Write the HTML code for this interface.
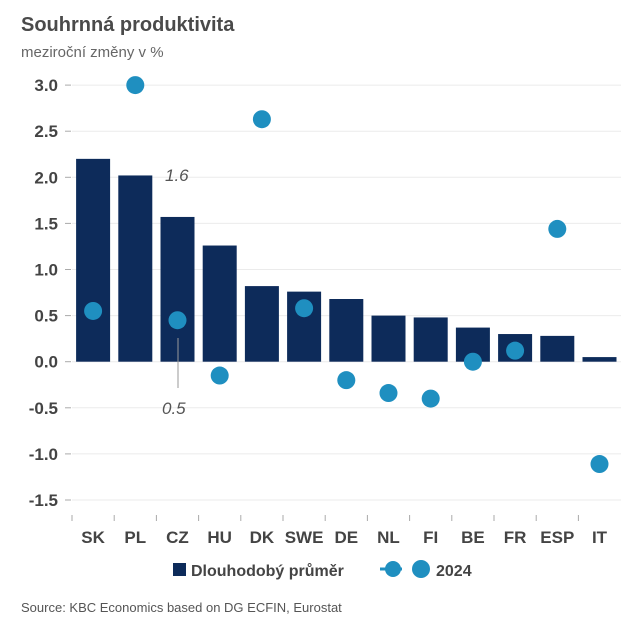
<!DOCTYPE html>
<html><head><meta charset="utf-8"><style>
body{margin:0;background:#fff;width:640px;height:631px;overflow:hidden;font-family:"Liberation Sans",sans-serif}
</style></head><body>
<svg width="640" height="631" xmlns="http://www.w3.org/2000/svg">
<text x="21" y="31" font-size="20" font-weight="bold" fill="#4a4a4a">Souhrnná produktivita</text>
<text x="21" y="57" font-size="15" fill="#666">meziroční změny v %</text>
<g id="grid"></g><g id="bars"></g><g id="dots"></g><g id="xl"></g>
<text x="165" y="181" font-size="17" font-style="italic" fill="#555">1.6</text>
<line x1="178" y1="338" x2="178" y2="388" stroke="#999" stroke-width="1"/>
<text x="162" y="414" font-size="17" font-style="italic" fill="#555">0.5</text>
<g>
<rect x="173" y="563" width="13" height="13" fill="#0d2b5a"/>
<text x="191" y="576" font-size="16" font-weight="bold" fill="#444">Dlouhodobý průměr</text>
<line x1="380" y1="569" x2="402" y2="569" stroke="#1f8fc0" stroke-width="3"/>
<circle cx="393" cy="569" r="8" fill="#1f8fc0"/>
<circle cx="421" cy="569" r="9" fill="#1f8fc0"/>
<text x="436" y="576" font-size="16" font-weight="bold" fill="#444">2024</text>
</g>
<text x="21" y="612" font-size="13" fill="#555">Source: KBC Economics based on DG ECFIN, Eurostat</text>
</svg>
<script>
const categories=["SK","PL","CZ","HU","DK","SWE","DE","NL","FI","BE","FR","ESP","IT"];
const avgValues=[2.20,2.02,1.57,1.26,0.82,0.76,0.68,0.50,0.48,0.37,0.30,0.28,0.05];
const values2024=[0.55,3.0,0.45,-0.15,2.63,0.58,-0.2,-0.34,-0.4,0.0,0.12,1.44,-1.11];
const yTicks=[3.0,2.5,2.0,1.5,1.0,0.5,0.0,-0.5,-1.0,-1.5];
const NS="http://www.w3.org/2000/svg";
const y=v=>361.7-v*92.2;
const step=42.2,x0=72;
const xc=i=>x0+step*(i+0.5);
function mk(t,a,p){const e=document.createElementNS(NS,t);for(const k in a)e.setAttribute(k,a[k]);document.getElementById(p).appendChild(e);return e;}
yTicks.forEach(v=>{
 const l=mk("line",{x1:72,x2:621,y1:y(v),y2:y(v),stroke:"#ebebeb","stroke-width":1},"grid");
 
 
 mk("line",{x1:65,x2:71,y1:y(v),y2:y(v),stroke:"#aaa","stroke-width":1},"grid");
 const t=mk("text",{x:58,y:y(v)+6,"font-size":17,"font-weight":"bold",fill:"#444","text-anchor":"end"},"grid");
 t.textContent=v.toFixed(1);
 
 
});
categories.forEach((c,i)=>{
 const a=avgValues[i];
 const r=mk("rect",{x:xc(i)-17,width:34,y:Math.min(y(a),y(0)),height:Math.abs(y(a)-y(0)),fill:"#0d2b5a"},"bars");
 
 
 const d=mk("circle",{cx:xc(i),cy:y(values2024[i]),r:9,fill:"#1f8fc0"},"dots");
 
 
 mk("line",{x1:x0+step*i,x2:x0+step*i,y1:515,y2:521,stroke:"#aaa"},"xl");
 const t=mk("text",{x:xc(i),y:543,"font-size":17,"font-weight":"bold",fill:"#444","text-anchor":"middle"},"xl");
 t.textContent=c;
 
 
});
</script>
</body></html>
